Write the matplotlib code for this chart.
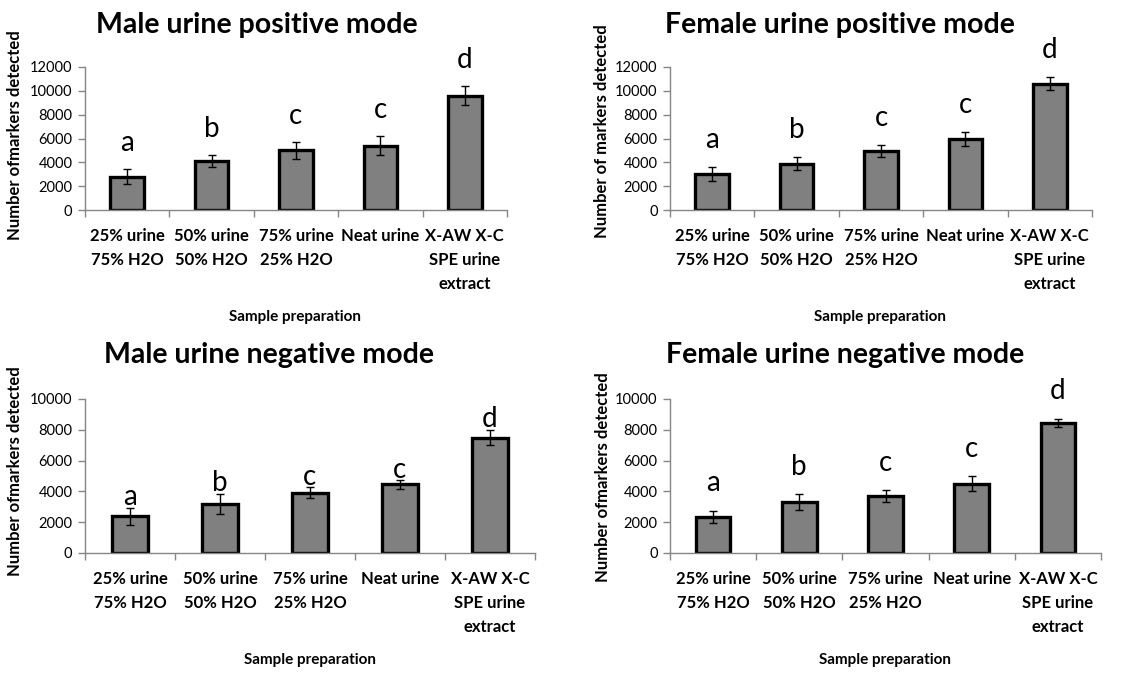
import numpy as np
import matplotlib
matplotlib.use("Agg")
import matplotlib.pyplot as plt
from matplotlib.ticker import FixedLocator

plt.rcParams['font.family'] = ['Lato', 'DejaVu Sans']

categories = ['25% urine\n75% H2O', '50% urine\n50% H2O', '75% urine\n25% H2O',
              'Neat urine', 'X-AW X-C\nSPE urine\nextract']
letters = ['a', 'b', 'c', 'c', 'd']

titles = ['Male urine positive mode', 'Female urine positive mode',
          'Male urine negative mode', 'Female urine negative mode']
ylabels = ['Number ofmarkers detected', 'Number of markers detected',
           'Number ofmarkers detected', 'Number ofmarkers detected']

male_pos = [2800, 4100, 5000, 5400, 9600]
male_pos_err = [600, 520, 700, 770, 800]
female_pos = [3000, 3900, 4950, 5950, 10600]
female_pos_err = [600, 550, 500, 560, 560]
male_neg = [2400, 3200, 3900, 4450, 7500]
male_neg_err = [550, 650, 360, 270, 480]
female_neg = [2350, 3300, 3700, 4500, 8450]
female_neg_err = [400, 520, 380, 490, 260]

values = [male_pos, female_pos, male_neg, female_neg]
errors = [male_pos_err, female_pos_err, male_neg_err, female_neg_err]
ymax = [12000, 12000, 10000, 10000]
ystep = [2000, 2000, 2000, 2000]

W, H = 1141, 675
fig = plt.figure(figsize=(W / 100, H / 100), dpi=100)

# axes boxes in pixels: left, right, top(ymax), bottom(0)
boxes = [(85, 507, 67, 210), (670, 1092, 67, 210),
         (85, 535, 399, 553), (670, 1101, 399, 553)]
title_pos = [(257, 25), (840, 25), (269, 355), (845, 355)]
ylab_pos = [(15, 135), (602, 131), (15, 471), (603, 477)]
xlab_pos = [(295, 317), (880, 317), (310, 660), (885, 660)]
letter_off = [9, 10, -2, 10]

axis_col = '#868686'
x = np.arange(len(categories))

for i in range(4):
    l, r, t, b = boxes[i]
    ax = fig.add_axes([l / W, 1 - b / H, (r - l) / W, (b - t) / H])
    ax.bar(x, values[i], width=0.4, color='#808080', edgecolor='black',
           linewidth=2.4, zorder=2)
    ax.errorbar(x, values[i], yerr=errors[i], fmt='none', ecolor='black',
                elinewidth=1, capsize=3, capthick=1, zorder=3)
    for xi, v, e, s in zip(x, values[i], errors[i], letters):
        ax.annotate(s, (xi, v + e), xytext=(0, letter_off[i] + 4),
                    textcoords='offset points', ha='center', va='baseline',
                    fontsize=20, zorder=4)
    ax.set_xlim(-0.5, len(categories) - 0.5)
    ax.set_ylim(0, ymax[i])
    ax.set_yticks(np.arange(0, ymax[i] + 1, ystep[i]))
    ax.set_xticks(x)
    ax.set_xticklabels(categories, fontsize=12, fontweight='bold',
                       linespacing=1.6, va='top')
    ax.xaxis.set_minor_locator(FixedLocator(np.arange(-0.5, len(categories), 1.0)))
    ax.tick_params(axis='x', which='major', length=0, pad=13)
    ax.tick_params(axis='x', which='minor', length=5, color=axis_col, width=1)
    ax.tick_params(axis='y', length=5, color=axis_col, width=1, labelsize=10.5, pad=4)
    for sp in ['top', 'right']:
        ax.spines[sp].set_visible(False)
    for sp in ['left', 'bottom']:
        ax.spines[sp].set_color(axis_col)
        ax.spines[sp].set_linewidth(1)
    ax.patch.set_alpha(0)

    tx, ty = title_pos[i]
    fig.text(tx / W, 1 - ty / H, titles[i], ha='center', va='center',
             fontsize=20.5, fontweight='bold')
    yx, yy = ylab_pos[i]
    fig.text(yx / W, 1 - yy / H, ylabels[i], ha='center', va='center',
             rotation=90, fontsize=12, fontweight='bold')
    xx, xy = xlab_pos[i]
    fig.text(xx / W, 1 - xy / H, 'Sample preparation', ha='center', va='center',
             fontsize=11, fontweight='bold')

fig.savefig('out.png', dpi=100)
